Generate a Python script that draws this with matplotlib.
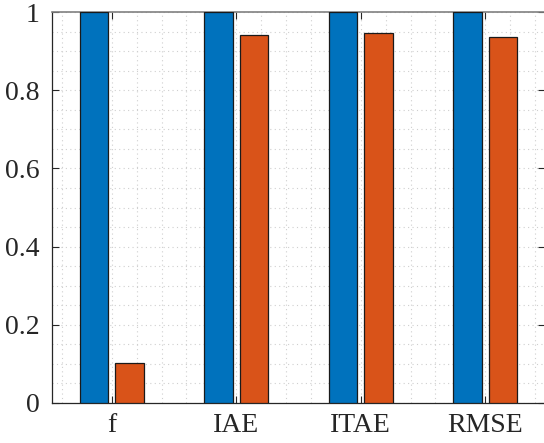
import numpy as np
import matplotlib.pyplot as plt
from matplotlib.ticker import MultipleLocator

# metric groups and normalised scores for the two controllers
metrics = ['f', 'IAE', 'ITAE', 'RMSE']
baseline = [1.0, 1.0, 1.0, 1.0]
proposed = [0.103, 0.942, 0.946, 0.935]
yticks = [0, 0.2, 0.4, 0.6, 0.8, 1.0]
ytick_labels = ['0', '0.2', '0.4', '0.6', '0.8', '1']

plt.rcParams['font.family'] = ['Liberation Serif', 'DejaVu Serif']

fig = plt.figure(figsize=(5.44, 4.43), dpi=100)
ax = fig.add_axes([52 / 544, 40 / 443, 493 / 544, 391 / 443])

x = np.arange(1, len(metrics) + 1)
w = 0.229
off = 0.142
ax.bar(x - off, baseline, w, color='#0072BD', edgecolor='#1a1a1a', linewidth=0.9, zorder=3)
ax.bar(x + off, proposed, w, color='#D95319', edgecolor='#1a1a1a', linewidth=0.9, zorder=3)

ax.set_xlim(0.52, 4.48)
ax.set_ylim(0, 1)
ax.set_xticks(x)
ax.set_xticklabels(metrics)
ax.set_yticks(yticks)
ax.set_yticklabels(ytick_labels)
ax.yaxis.set_minor_locator(MultipleLocator(0.05))
ax.xaxis.set_minor_locator(MultipleLocator(0.2))

# MATLAB-like dotted major/minor grid
ax.grid(True, which='both', linestyle=(0, (1, 3)), color='#cfcfcf', linewidth=0.8, zorder=0)
ax.set_axisbelow(True)

ax.tick_params(which='major', direction='in', length=5, width=0.8, color='#262626',
               top=True, right=True, labelsize=20, labelcolor='#262626')
ax.tick_params(axis='y', pad=9)
ax.tick_params(axis='x', pad=7)
ax.tick_params(which='minor', length=0)
for side in ['left', 'bottom', 'right']:
    ax.spines[side].set_color('#262626')
    ax.spines[side].set_linewidth(0.9)
ax.spines['top'].set_color('#808080')
ax.spines['top'].set_linewidth(1.2)

fig.savefig('out.png', dpi=100)
